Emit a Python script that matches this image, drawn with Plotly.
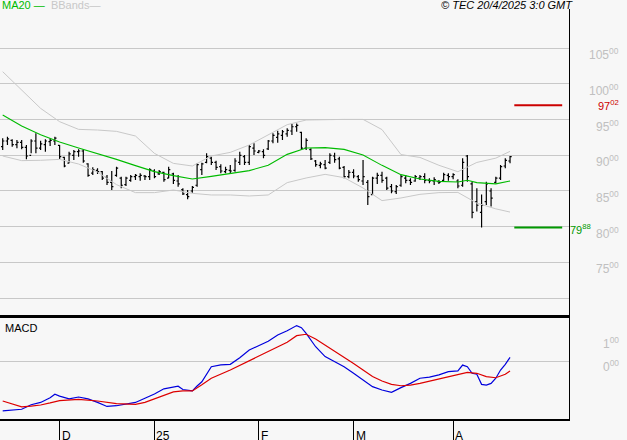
import plotly.graph_objects as go

# ---------------- data ----------------
bar_open = [9120,9200,9210,9150,9180,9110,9000,9200,9100,9150,
            9190,9200,9140,8970,8890,9000,9050,9060,8880,8750,
            8790,8770,8690,8620,8720,8680,8590,8650,8700,8700,
            8710,8700,8780,8740,8760,8680,8740,8640,8520,8450,
            8500,8580,8800,8900,8960,8900,8840,8770,8790,8790,
            8900,8980,8900,9100,9040,9050,9090,9200,9250,9280,
            9300,9340,9400,9320,9100,9080,8920,8860,8870,8900,
            8990,8950,8830,8700,8760,8700,8640,8620,8450,8680,
            8720,8680,8560,8490,8580,8680,8650,8640,8680,8700,
            8650,8640,8630,8650,8720,8700,8640,8580,8990,8600,
            8350,8200,8350,8500,8620,8680,8850,8920]
bar_high = [9237,9260,9223,9214,9214,9144,9223,9307,9205,9223,
            9237,9260,9144,8981,9050,9074,9083,9083,8887,8831,
            8817,8780,8724,8780,8841,8701,8701,8724,8738,8747,
            8724,8817,8803,8794,8771,8840,8757,8724,8537,8514,
            8570,8887,8897,9027,8981,8925,8873,8841,8864,8957,
            9050,9004,9144,9167,9074,9083,9214,9307,9345,9354,
            9377,9438,9447,9331,9237,9097,8934,8911,8934,9027,
            9037,8981,8850,8794,8803,8724,8934,8654,8701,8757,
            8771,8701,8598,8584,8724,8724,8677,8724,8724,8747,
            8677,8691,8654,8757,8747,8747,8663,8957,9004,8631,
            8537,8450,8631,8537,8701,8864,8957,8990]
bar_low = [9074,9144,9120,9097,9083,8943,9027,9027,9074,9050,
           9130,9144,8948,8831,8887,8934,8981,8897,8701,8724,
           8738,8654,8584,8514,8701,8537,8570,8631,8654,8645,
           8654,8654,8677,8724,8631,8677,8598,8560,8444,8383,
           8477,8560,8724,8887,8864,8794,8747,8747,8747,8771,
           8864,8864,8864,9004,9027,8957,9074,9167,9177,9214,
           9261,9284,9331,9074,9074,8934,8841,8817,8803,8878,
           8897,8803,8677,8677,8677,8631,8584,8304,8444,8598,
           8617,8514,8467,8458,8561,8607,8584,8631,8654,8607,
           8607,8584,8598,8631,8645,8663,8537,8561,8631,8117,
           8211,7988,8304,8281,8607,8654,8817,8887]
bar_close = [9200,9230,9150,9180,9110,8990,9200,9100,9160,9200,
             9210,9240,8980,8850,9020,9050,9060,8920,8720,8800,
             8770,8680,8620,8560,8820,8580,8680,8700,8720,8720,
             8700,8800,8700,8770,8660,8800,8650,8600,8460,8420,
             8550,8870,8880,8980,8900,8830,8780,8800,8780,8920,
             9000,8900,9120,9060,9060,9000,9200,9280,9300,9330,
             9350,9400,9420,9100,9210,8950,8870,8880,8820,9000,
             8940,8820,8700,8760,8710,8660,8700,8420,8680,8720,
             8650,8540,8500,8560,8700,8650,8620,8700,8700,8650,
             8640,8660,8620,8730,8700,8730,8570,8900,8700,8200,
             8300,8300,8600,8400,8680,8840,8930,8980]

ma_idx = [0,4,8,12,16,20,24,28,32,36,40,44,48,52,56,60,64,68,72,76,80,84,88,92,96,98,100,104,107]
ma20 = [9564,9410,9289,9186,9102,9027,8943,8855,8771,8715,8668,8705,8743,8785,8860,
        9013,9102,9107,9083,9004,8859,8729,8668,8635,8625,8650,8617,8600,8640]

bb_idx = [0,4,8,12,16,20,24,28,32,36,40,44,48,52,56,60,64,68,72,76,80,84,88,92,96,100,104,107]
bb_upper = [10171,9909,9657,9471,9363,9354,9335,9270,9027,8887,8850,8990,9041,9144,
            9284,9429,9494,9503,9503,9503,9360,9010,8970,8860,8770,8900,8960,9055]
bb_lower = [8990,8925,8930,8943,8878,8766,8589,8477,8477,8514,8467,8444,8444,8430,
            8444,8617,8682,8733,8687,8542,8365,8402,8453,8477,8480,8330,8250,8205]

macd_idx = [0,4,6,8,10,11,12,14,16,18,20,22,24,26,28,30,32,34,36,37,38,40,41,42,44,46,48,50,
            52,54,56,58,60,62,63,64,66,68,70,72,74,76,78,80,82,84,86,88,90,92,94,96,97,98,
            99,100,101,102,103,104,105,106,107]
macd = [-211,-204,-185,-175,-155,-140,-148,-160,-152,-160,-175,-192,-189,-183,-175,-157,
        -139,-117,-108,-106,-120,-126,-105,-87,-23,-15,-13,15,48,67,85,112,130,152,143,119,
        62,20,-1,-23,-51,-80,-108,-122,-132,-112,-94,-72,-67,-58,-44,-41,-16,-23,-51,-55,
        -98,-101,-94,-72,-37,-13,17]
sig_idx = [0,2,4,6,8,10,12,16,20,24,28,30,32,36,38,40,42,44,48,52,56,60,62,64,66,68,70,72,74,
           76,78,80,82,84,86,88,90,92,94,96,98,100,102,104,106,107]
signal = [-169,-183,-194,-191,-186,-177,-167,-162,-169,-180,-183,-175,-160,-130,-126,-126,
          -100,-72,-37,3,43,81,109,115,95,69,44,20,-9,-37,-65,-84,-98,-104,-101,-94,-84,
          -75,-65,-55,-47,-51,-65,-70,-55,-41]

price_ticks = [10500, 10000, 9500, 9000, 8500, 8000, 7500]
price_grid = [10500, 10000, 9500, 9000, 8500, 8000, 7500, 7000]
macd_ticks = [100, 0]
resistance = 9702
support = 7988
date_ticks = [12, 32, 54, 74, 95]
date_labels = ["D", "25", "F", "M", "A"]

BG = "#f7f7f7"
GRID = "#c8c8c8"
LBL = "#c0c0c0"
FONT = "Liberation Sans, Arial, sans-serif"

xs = list(range(len(bar_close)))
fig = go.Figure()

# Bollinger bands
fig.add_trace(go.Scatter(x=bb_idx, y=bb_upper, mode="lines", line=dict(color=GRID, width=1),
                         xaxis="x", yaxis="y", hoverinfo="skip"))
fig.add_trace(go.Scatter(x=bb_idx, y=bb_lower, mode="lines", line=dict(color=GRID, width=1),
                         xaxis="x", yaxis="y", hoverinfo="skip"))
# MA20
fig.add_trace(go.Scatter(x=ma_idx, y=ma20, mode="lines", line=dict(color="#00bb00", width=1.1),
                         xaxis="x", yaxis="y"))
# OHLC bars
fig.add_trace(go.Ohlc(x=xs, open=bar_open, high=bar_high, low=bar_low, close=bar_close,
                      increasing=dict(line=dict(color="black", width=1.2)),
                      decreasing=dict(line=dict(color="black", width=1.2)),
                      tickwidth=0.35, xaxis="x", yaxis="y"))

# support / resistance levels
last = xs[-1]
fig.add_trace(go.Scatter(x=[last + 0.9, last + 11], y=[resistance, resistance], mode="lines",
                         line=dict(color="#cc0000", width=2), xaxis="x", yaxis="y"))
fig.add_trace(go.Scatter(x=[last + 0.9, last + 11], y=[support, support], mode="lines",
                         line=dict(color="#009900", width=2), xaxis="x", yaxis="y"))

# MACD
fig.add_trace(go.Scatter(x=macd_idx, y=macd, mode="lines", line=dict(color="#0000dd", width=1.2),
                         xaxis="x2", yaxis="y2"))
fig.add_trace(go.Scatter(x=sig_idx, y=signal, mode="lines", line=dict(color="#dd0000", width=1.2),
                         xaxis="x2", yaxis="y2"))

XR = [-0.57, 119.5]
price_dom = [1 - 315 / 440, 1 - 9 / 440]
macd_dom = [1 - 419 / 440, 1 - 315 / 440]
right_edge = 569.3 / 627
LABEL_RIGHT = 621 / 627

ann = []
for v in price_ticks:
    ann.append(dict(x=LABEL_RIGHT, xref="paper", y=v, yref="y", yshift=-6,
                    text=f"{v // 100}<sup>{v % 100:02d}</sup>", showarrow=False,
                    xanchor="right", yanchor="middle", font=dict(color=LBL, size=12, family=FONT)))
for v in macd_ticks:
    ann.append(dict(x=LABEL_RIGHT, xref="paper", y=v, yref="y2", yshift=-5,
                    text=f"{v // 100}<sup>{v % 100:02d}</sup>", showarrow=False,
                    xanchor="right", yanchor="middle", font=dict(color=LBL, size=12, family=FONT)))
ann.append(dict(x=LABEL_RIGHT, xref="paper", y=resistance, yref="y",
                text=f"{resistance // 100}<sup>{resistance % 100:02d}</sup>", showarrow=False,
                xanchor="right", yanchor="middle", font=dict(color="#cc0000", size=11, family=FONT)))
ann.append(dict(x=568 / 627, xref="paper", y=support, yref="y", yshift=-1,
                text=f"{support // 100}<sup>{support % 100:02d}</sup>", showarrow=False,
                xanchor="left", yanchor="middle", font=dict(color="#009900", size=11, family=FONT)))
for t, lab in zip(date_ticks, date_labels):
    ann.append(dict(x=t, xref="x2", y=1 - 427 / 440, yref="paper", text=lab, showarrow=False,
                    xanchor="left", yanchor="top", xshift=0,
                    font=dict(color="black", size=12, family=FONT)))
ann.append(dict(x=0, xref="paper", y=1 - 5.5 / 440, yref="paper",
                text="<span style='color:#00bb00'>MA20 \u2014</span>  <span style='color:#c8c8c8'>BBands\u2014</span>",
                showarrow=False, xanchor="left", yanchor="middle", font=dict(size=11, family=FONT)))
ann.append(dict(x=575 / 627, xref="paper", y=1 - 5.5 / 440, yref="paper",
                text="<i>\u00a9 TEC 20/4/2025 3:0 GMT</i>", showarrow=False,
                xanchor="right", yanchor="middle", font=dict(size=11, color="black", family=FONT)))
ann.append(dict(x=3 / 627, xref="paper", y=1 - 328 / 440, yref="paper", text="MACD",
                showarrow=False, xanchor="left", yanchor="middle",
                font=dict(size=11, color="black", family=FONT)))

fig.update_layout(
    width=627, height=440,
    margin=dict(l=0, r=0, t=0, b=0),
    paper_bgcolor=BG, plot_bgcolor=BG,
    showlegend=False,
    font=dict(family=FONT),
    xaxis=dict(domain=[0, right_edge], range=XR, anchor="y", showgrid=False, zeroline=False,
               showticklabels=False, ticks="", showline=True, linecolor="black", linewidth=3,
               rangeslider=dict(visible=False), fixedrange=True),
    yaxis=dict(domain=price_dom, range=[6763, 11049], anchor="x", side="right",
               tickvals=price_grid, showticklabels=False, ticks="", showgrid=True,
               gridcolor=GRID, gridwidth=1, zeroline=False, showline=True,
               linecolor="black", linewidth=1),
    xaxis2=dict(domain=[0, right_edge], range=XR, anchor="y2", matches="x", showgrid=False,
                zeroline=False, showticklabels=False, tickvals=date_ticks, ticks="outside",
                ticklen=21, tickwidth=1, tickcolor="black", showline=True, linecolor="black",
                linewidth=1.5),
    yaxis2=dict(domain=macd_dom, range=[-245.5, 197], anchor="x2", side="right",
                tickvals=[0], showticklabels=False, ticks="", showgrid=True, gridcolor=GRID,
                zeroline=False, showline=True, linecolor="black", linewidth=1),
    annotations=ann,
)

fig.write_html("out.html", config={"displayModeBar": False},
               post_script="document.body.style.margin='0';document.body.style.background='%s';" % BG)
